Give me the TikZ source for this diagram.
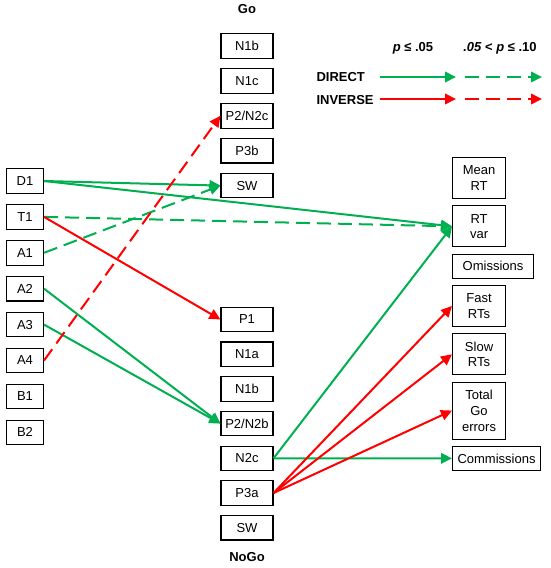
\documentclass[tikz,border=0pt]{standalone}
\usepackage{fontspec}
\setmainfont{Liberation Sans}
\usetikzlibrary{positioning,arrows.meta}
\definecolor{dirgreen}{RGB}{0,176,80}
\definecolor{invred}{RGB}{255,0,0}

\begin{document}
\begin{tikzpicture}[
  x=1pt, y=1pt,
  font=\fontsize{13}{15.5}\selectfont,
  box/.style={draw, line width=1.1pt, inner xsep=3pt, inner ysep=2pt, minimum height=24.5pt, align=center},
  lbox/.style={box, minimum width=37pt},
  mbox/.style={box, minimum width=52pt},
  rbox/.style={box, minimum width=53pt, minimum height=41pt, inner xsep=5pt},
  hdr/.style={font=\fontsize{13}{15.5}\selectfont\bfseries},
  arr/.style={-{Triangle[length=11pt,width=10.5pt]}, line width=2pt},
  dir/.style={arr, dirgreen},
  inv/.style={arr, invred},
  weak/.style={dash pattern=on 14pt off 7pt},
]
\useasboundingbox (0,0) rectangle (550,-568);

% left column
\node[lbox] (d1) at (25,-181) {D1};
\node[lbox, below=10.3pt of d1] (t1) {T1};
\node[lbox, below=10.3pt of t1] (a1) {A1};
\node[lbox, below=10.3pt of a1] (a2) {A2};
\node[lbox, below=10.3pt of a2] (a3) {A3};
\node[lbox, below=10.3pt of a3] (a4) {A4};
\node[lbox, below=10.3pt of a4] (b1) {B1};
\node[lbox, below=10.3pt of b1] (b2) {B2};

% Go components
\node[hdr] (go) at (247,-9) {Go};
\node[mbox] (gn1b) at (247,-46) {N1b};
\node[mbox, below=9.3pt of gn1b] (gn1c) {N1c};
\node[mbox, below=9.3pt of gn1c] (gp2n2c) {P2/N2c};
\node[mbox, below=9.3pt of gp2n2c] (gp3b) {P3b};
\node[mbox, below=9.3pt of gp3b] (gsw) {SW};

% NoGo components
\node[mbox] (np1) at (247,-319.5) {P1};
\node[mbox, below=9.1pt of np1] (nn1a) {N1a};
\node[mbox, below=9.1pt of nn1a] (nn1b) {N1b};
\node[mbox, below=9.1pt of nn1b] (np2n2b) {P2/N2b};
\node[mbox, below=9.1pt of np2n2b] (nn2c) {N2c};
\node[mbox, below=9.1pt of nn2c] (np3a) {P3a};
\node[mbox, below=9.1pt of np3a] (nsw) {SW};
\node[hdr] (nogo) at (247,-557) {NoGo};

% outcome measures
\node[rbox, anchor=north west] (meanrt) at (452,-157) {Mean\\RT};
\node[rbox, below=6.2pt of meanrt.south west, anchor=north west] (rtvar) {RT\\var};
\node[rbox, minimum height=24pt, minimum width=81pt, below=6.2pt of rtvar.south west, anchor=north west] (omis) {Omissions};
\node[rbox, below=6.2pt of omis.south west, anchor=north west] (fastrt) {Fast\\RTs};
\node[rbox, below=6.2pt of fastrt.south west, anchor=north west] (slowrt) {Slow\\RTs};
\node[rbox, minimum height=57pt, font=\fontsize{13}{16}\selectfont, below=6.2pt of slowrt.south west, anchor=north west] (goerr) {Total\\Go\\errors};
\node[rbox, minimum height=24pt, below=6.2pt of goerr.south west, anchor=north west] (commis) {Commissions};

% legend
\node[hdr] (psig) at (413,-48) {\itshape p\upshape{} ≤ .05};
\node[hdr] (ptrend) at (500,-48) {\itshape .05\upshape{} < \itshape p\upshape{} ≤ .10};
\node[hdr, anchor=west] (direct) at (313,-77) {DIRECT};
\node[hdr, anchor=west] (inverse) at (313,-100) {INVERSE};
\coordinate (dsa) at (380,-77);
\coordinate (dsb) at (456,-77);
\coordinate (dwa) at (465,-77);
\coordinate (dwb) at (542,-77);
\coordinate (isa) at (380,-99);
\coordinate (isb) at (456,-99);
\coordinate (iwa) at (465,-99);
\coordinate (iwb) at (542,-99);
\draw[dir] (dsa) -- (dsb);
\draw[dir, weak] (dwa) -- (dwb);
\draw[inv] (isa) -- (isb);
\draw[inv, weak] (iwa) -- (iwb);

% paths
\draw[dir] (d1.east) -- (gsw.west);
\draw[dir] (d1.east) -- (rtvar.west);
\draw[dir, weak] (t1.east) -- (rtvar.west);
\draw[inv] (t1.east) -- (np1.west);
\draw[dir, weak] (a1.east) -- (gsw.west);
\draw[dir] (a2.east) -- (np2n2b.west);
\draw[dir] (a3.east) -- (np2n2b.west);
\draw[inv, weak] (a4.east) -- (gp2n2c.west);
\draw[dir] (nn2c.east) -- (rtvar.west);
\draw[dir] (nn2c.east) -- (commis.west);
\draw[inv] (np3a.east) -- (fastrt.west);
\draw[inv] (np3a.east) -- (slowrt.west);
\draw[inv] (np3a.east) -- (goerr.west);
\end{tikzpicture}
\end{document}
